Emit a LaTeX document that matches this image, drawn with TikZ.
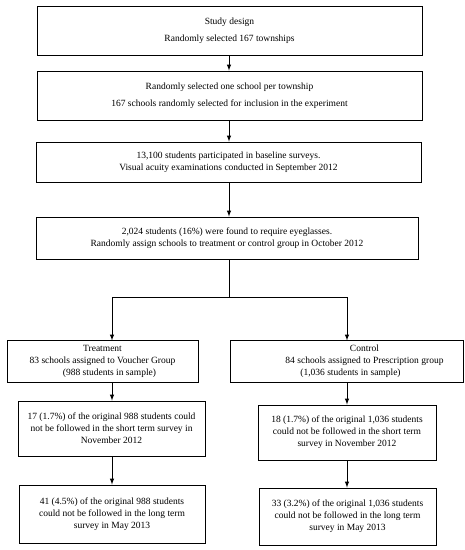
\documentclass[tikz,border=0pt]{standalone}
\usepackage{fontspec}
\setmainfont{Liberation Serif}
\usetikzlibrary{arrows,positioning}
\tikzset
{
	flowbox/.style = {rectangle, draw=black, line width=1pt, align=center, inner xsep=0.5pt, inner ysep=2pt, font=\fontsize{9.5}{12}\selectfont},
	flowarrow/.style = {-latex, line width=1pt},
	flowline/.style = {line width=1pt}
}

\begin{document}
\begin{tikzpicture}[x=1pt,y=-1pt]
\useasboundingbox (0,0) rectangle (465,550);
\node[flowbox, minimum width=385pt, minimum height=49pt] (design) at (229.5,30.5) {Study design\\[5pt]Randomly selected 167 townships};
\node[flowbox, minimum width=385pt, minimum height=49pt] (school) at (229.5,95.5) {Randomly selected one school per township\\[5pt]167 schools randomly selected for inclusion in the experiment};
\node[flowbox, minimum width=385pt, minimum height=40pt] (baseline) at (228.5,162) {13,100 students participated in baseline surveys.\\Visual acuity examinations conducted in September 2012};
\node[flowbox, minimum width=382pt, minimum height=42pt] (assign) at (227,238) {2,024 students (16\%) were found to require eyeglasses.\\Randomly assign schools to treatment or control group in October 2012};

\node[flowbox, minimum width=191pt, minimum height=41.5pt] (treat) at (102.5,361.7) {Treatment\\83 schools assigned to Voucher Group\\\hspace{14pt}(988 students in sample)};
\node[flowbox, minimum width=187pt, minimum height=55pt] (tshort) at (111.5,428.5) {17 (1.7\%) of the original 988 students could\\not be followed in the short term survey in\\November 2012};
\node[flowbox, minimum width=186pt, minimum height=58pt] (tlong) at (112,514) {41 (4.5\%) of the original 988 students\\could not be followed in the long term\\survey in May 2013};

\node[flowbox, minimum width=233pt, minimum height=41.5pt] (control) at (346.5,361.7) {\hspace{36pt}Control\\\hspace{36pt}84 schools assigned to Prescription group\\\hspace{8pt}(1,036 students in sample)};
\node[flowbox, minimum width=178pt, minimum height=55pt] (cshort) at (347,432.5) {18 (1.7\%) of the original 1,036 students\\could not be followed in the short term\\survey in November 2012};
\node[flowbox, minimum width=177pt, minimum height=57pt] (clong) at (347.5,516.5) {33 (3.2\%) of the original 1,036 students\\could not be followed in the long term\\survey in May 2013};

\coordinate (split) at (229,297);
\coordinate (tcol) at (112,297);
\coordinate (ccol) at (347,297);

\draw[flowarrow] (design.south -| split) -- (school.north -| split);
\draw[flowarrow] (school.south -| split) -- (baseline.north -| split);
\draw[flowarrow] (baseline.south -| split) -- (assign.north -| split);
\draw[flowline] (assign.south -| split) -- (split);
\draw[flowarrow] (split) -- (tcol) -- (treat.north -| tcol);
\draw[flowarrow] (split) -- (ccol) -- (control.north -| ccol);
\draw[flowarrow] (treat.south -| tcol) -- (tshort.north -| tcol);
\draw[flowarrow] (tshort.south -| tcol) -- (tlong.north -| tcol);
\draw[flowarrow] (control.south -| ccol) -- (cshort.north -| ccol);
\draw[flowarrow] (cshort.south -| ccol) -- (clong.north -| ccol);
\end{tikzpicture}
\end{document}
